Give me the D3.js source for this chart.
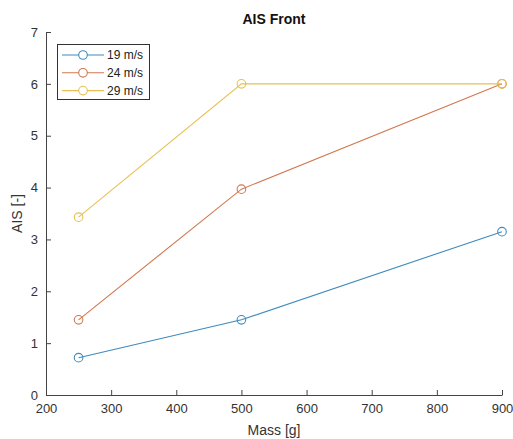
<!DOCTYPE html>
<html><head><meta charset="utf-8">
<script src="https://cdn.jsdelivr.net/npm/d3@7"></script>
<style>body{margin:0;background:#fff}svg{display:block}text{font-family:"Liberation Sans",Arial,sans-serif}</style>
</head><body>
<svg id="c" width="513" height="439"></svg>
<script>
const masses = [250, 500, 900];
const seriesNames = ["19 m/s", "24 m/s", "29 m/s"];
const v19 = [0.72, 1.45, 3.15];
const v24 = [1.45, 3.97, 6.0];
const v29 = [3.43, 6.0, 6.0];
const colors = ["#3f8bbd", "#d2784e", "#e6c055"];
const xTicks = [200, 300, 400, 500, 600, 700, 800, 900];
const yTicks = [0, 1, 2, 3, 4, 5, 6, 7];

const svg = d3.select("#c");
const x = d3.scaleLinear().domain([200, 900]).range([46, 502]);
const y = d3.scaleLinear().domain([0, 7]).range([395, 32]);
const axisCol = "#444";

const xa = svg.append("g").attr("transform", `translate(0,${y(0)})`)
  .call(d3.axisBottom(x).tickValues(xTicks).tickFormat(d3.format("d")).tickSizeInner(-5).tickSizeOuter(0).tickPadding(9));
const ya = svg.append("g").attr("transform", `translate(${x(200)},0)`)
  .call(d3.axisLeft(y).tickValues(yTicks).tickFormat(d3.format("d")).tickSizeInner(-5).tickSizeOuter(0).tickPadding(8));
[xa, ya].forEach(a => {
  a.select(".domain").attr("stroke", axisCol);
  a.selectAll(".tick line").attr("stroke", axisCol);
  a.selectAll(".tick text").attr("fill", "#333").style("font-size", "13px");
});

const data = [v19, v24, v29];
const line = d3.line().x((d, i) => x(masses[i])).y(d => y(d));
data.forEach((vals, s) => {
  svg.append("path").datum(vals).attr("d", line).attr("fill", "none")
    .attr("stroke", colors[s]).attr("stroke-width", 1.1);
  svg.selectAll(null).data(vals).enter().append("circle")
    .attr("cx", (d, i) => x(masses[i])).attr("cy", d => y(d)).attr("r", 4.3)
    .attr("fill", "none").attr("stroke", colors[s]).attr("stroke-width", 1.1);
});

svg.append("text").attr("x", 274).attr("y", 24).attr("text-anchor", "middle")
  .style("font-size", "14px").style("font-weight", "bold").attr("fill", "#111").text("AIS Front");
svg.append("text").attr("x", 274).attr("y", 435).attr("text-anchor", "middle")
  .style("font-size", "14px").attr("fill", "#333").text("Mass [g]");
svg.append("text").attr("transform", `translate(22,${(y(0)+y(7))/2}) rotate(-90)`)
  .attr("text-anchor", "middle").style("font-size", "14px").attr("fill", "#333").text("AIS [-]");

const lg = svg.append("g");
lg.append("rect").attr("x", 57.5).attr("y", 44.5).attr("width", 92).attr("height", 55)
  .attr("fill", "#fff").attr("stroke", "#333").attr("stroke-width", 1);
seriesNames.forEach((n, i) => {
  const yy = 55 + i * 17.8;
  lg.append("line").attr("x1", 62).attr("x2", 104).attr("y1", yy).attr("y2", yy)
    .attr("stroke", colors[i]).attr("stroke-width", 1.1);
  lg.append("circle").attr("cx", 83).attr("cy", yy).attr("r", 4.3).attr("fill", "#fff")
    .attr("stroke", colors[i]).attr("stroke-width", 1.1);
  lg.append("text").attr("x", 107).attr("y", yy + 4).style("font-size", "12px").attr("fill", "#222").text(n);
});
</script>
</body></html>
